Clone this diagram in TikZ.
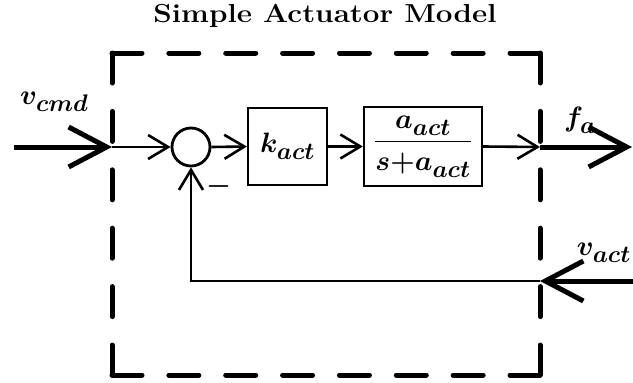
\documentclass[tikz,border=0pt]{standalone}
\usepackage{fix-cm}
\usepackage{amsmath}
\usepackage{graphicx}
\usetikzlibrary{arrows.meta}
\DeclareMathSizes{28}{28}{24}{20}
\newcommand{\lsub}[1]{_{\raisebox{-3pt}{$\scriptstyle #1$}}}
\begin{document}
\begin{tikzpicture}[x=1pt,y=-1pt,
  thinline/.style={line width=2.6pt},
  thickline/.style={line width=5pt},
  tipS/.style={-{Straight Barb[length=20pt,width=24pt]}},
  tipL/.style={-{Straight Barb[length=38pt,width=40pt]}},
  blk/.style={draw,line width=2.2pt,inner sep=0pt},
  mtext/.style={font=\fontsize{28}{32}\selectfont\boldmath},
  frame/.style={line width=5pt,line cap=round}
]
\useasboundingbox (0,0) rectangle (633,383);
% title
\node[font=\fontsize{26}{30}\selectfont\bfseries, anchor=base, inner sep=0pt] (title) at (325,22) {\scalebox{1.14}[1]{Simple Actuator Model}};
% frame corners
\coordinate (tl) at (112,53);
\coordinate (tr) at (540,53);
\coordinate (bl) at (112,375);
\coordinate (br) at (540,375);
\draw[frame,dash pattern=on 30pt off 26.86pt] (tl) -- (tr);
\draw[frame,dash pattern=on 30pt off 26.86pt] (bl) -- (br);
\draw[frame,dash pattern=on 30pt off 28.4pt] (tl) -- (bl);
\draw[frame,dash pattern=on 30pt off 28.4pt] (tr) -- (br);
% blocks
\node[draw,circle,line width=2.8pt,minimum size=38pt,inner sep=0pt] (sum) at (191,147) {};
\node[blk,minimum width=79pt,minimum height=77pt,mtext] (kact) at (287.5,146.5) {$k\lsub{act}$};
\node[blk,minimum width=118pt,minimum height=79pt,mtext] (tf) at (423,146.5) {$\dfrac{a\lsub{act}}{s{+}a\lsub{act}}$};
% points
\coordinate (inL) at (14,147);
\coordinate (inB) at (112,147);
\coordinate (outB) at (540,147);
\coordinate (outR) at (632,147);
\coordinate (fbR) at (633,281);
\coordinate (fbB) at (540,281);
\coordinate (fbC) at (sum.south |- fbB);
% connectors
\draw[thickline,tipL] (inL) -- (inB);
\draw[thinline,tipS] (inB) -- (sum.west);
\draw[thinline,tipS] (sum.east) -- (kact.west);
\draw[thinline,tipS] (kact.east) -- (tf.west);
\draw[thinline,tipS] (tf.east) -- (outB);
\draw[thickline,tipL] (outB) -- (outR);
\draw[thickline,tipL] (fbR) -- (fbB);
\draw[thinline,tipS] (fbB) -- (fbC) -- (sum.south);
% labels
\node[mtext,anchor=base west,inner sep=0pt] (vcmd) at (20,104) {$v\lsub{cmd}$};
\node[mtext,anchor=base west,inner sep=0pt] (fa) at (564,126) {$f\lsub{a}$};
\node[mtext,anchor=base east,inner sep=0pt] (vact) at (631,255) {$v\lsub{act}$};
\node[mtext,inner sep=0pt] (minus) at (219,186) {$-$};
\end{tikzpicture}
\end{document}
